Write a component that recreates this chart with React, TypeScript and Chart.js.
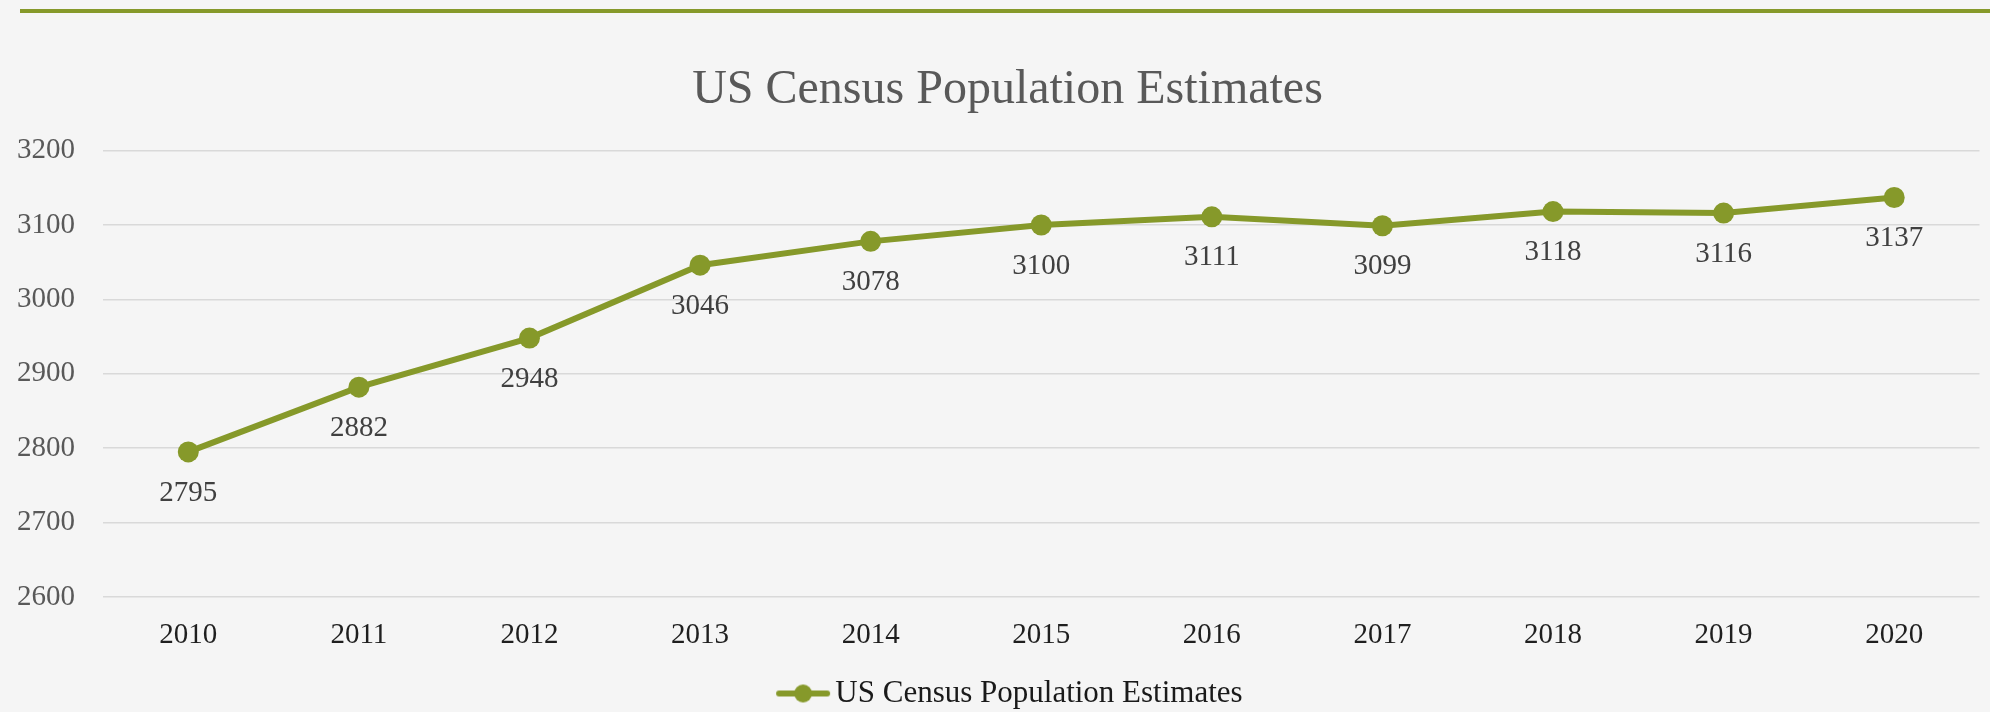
import React, { useEffect, useRef } from "react";
import { Chart, registerables } from "chart.js";

Chart.register(...registerables);

const years: string[] = ["2010", "2011", "2012", "2013", "2014", "2015", "2016", "2017", "2018", "2019", "2020"];
const population: number[] = [2795, 2882, 2948, 3046, 3078, 3100, 3111, 3099, 3118, 3116, 3137];
const seriesName = "US Census Population Estimates";
const chartTitle = "US Census Population Estimates";
const yMin = 2600;
const yMax = 3200;
const yStep = 100;

const GREEN = "#86992a";
const FONT = "'Liberation Serif', 'Times New Roman', serif";

function makeLegendIcon(): HTMLCanvasElement {
  const c = document.createElement("canvas");
  c.width = 72;
  c.height = 22;
  const ctx = c.getContext("2d")!;
  ctx.strokeStyle = GREEN;
  ctx.lineWidth = 6;
  ctx.lineCap = "round";
  ctx.beginPath();
  ctx.moveTo(19, 11);
  ctx.lineTo(67, 11);
  ctx.stroke();
  ctx.fillStyle = GREEN;
  ctx.beginPath();
  ctx.arc(43, 11, 9, 0, Math.PI * 2);
  ctx.fill();
  return c;
}

const dataLabelPlugin = {
  id: "dataLabelsBelow",
  afterDatasetsDraw(chart: any) {
    const ctx = chart.ctx;
    const meta = chart.getDatasetMeta(0);
    const values = chart.data.datasets[0].data as number[];
    ctx.save();
    ctx.font = `29px ${FONT}`;
    ctx.fillStyle = "#404040";
    ctx.textAlign = "center";
    ctx.textBaseline = "middle";
    meta.data.forEach((pt: any, i: number) => {
      ctx.fillText(String(values[i]), pt.x, pt.y + 41);
    });
    ctx.restore();
  },
};

export default function App() {
  const ref = useRef<HTMLCanvasElement | null>(null);

  useEffect(() => {
    document.body.style.margin = "0";
    const canvas = ref.current!;
    const icon = makeLegendIcon();
    const chart = new Chart(canvas, {
      type: "line",
      data: {
        labels: years,
        datasets: [
          {
            label: seriesName,
            data: population,
            borderColor: GREEN,
            backgroundColor: GREEN,
            borderWidth: 6,
            pointRadius: 10.5,
            pointHoverRadius: 10.5,
            pointBackgroundColor: GREEN,
            pointBorderWidth: 0,
            tension: 0,
            fill: false,
          },
        ],
      },
      options: {
        responsive: false,
        animation: false,
        maintainAspectRatio: false,
        layout: { padding: { left: 30, right: 5, top: 0, bottom: -7 } },
        plugins: {
          title: {
            display: true,
            text: chartTitle,
            color: "#595959",
            font: { family: FONT, size: 48, weight: "normal" },
            padding: { top: 62, bottom: 31 },
          },
          legend: {
            display: true,
            position: "bottom",
            labels: {
              color: "#1a1a1a",
              font: { family: FONT, size: 31 },
              padding: 5,
              usePointStyle: true,
              pointStyleWidth: 47.5,
              generateLabels: (ch: any) =>
                ch.data.datasets.map((ds: any, i: number) => ({
                  text: ds.label,
                  pointStyle: icon,
                  fillStyle: GREEN,
                  strokeStyle: GREEN,
                  lineWidth: 0,
                  hidden: false,
                  datasetIndex: i,
                  fontColor: "#1a1a1a",
                })),
            },
          },
          tooltip: { enabled: false },
        },
        scales: {
          x: {
            offset: true,
            grid: { display: false, drawTicks: false, offset: true },
            border: { display: false },
            ticks: {
              color: "#1f1f1f",
              font: { family: FONT, size: 29 },
              padding: 21,
              maxRotation: 0,
            },
            afterFit: (s: any) => {
              s.height = 76;
            },
          },
          y: {
            min: yMin,
            max: yMax,
            grid: { color: "#d9d9d9", lineWidth: 1.5, drawTicks: false },
            border: { display: false },
            ticks: {
              stepSize: yStep,
              color: "#595959",
              font: { family: FONT, size: 29 },
              padding: 28,
              callback: (v: any) => String(v),
            },
            afterFit: (s: any) => {
              s.width = 73;
              s._computeLabelArea = () => undefined;
            },
          },
        },
      },
      plugins: [dataLabelPlugin],
    });
    return () => chart.destroy();
  }, []);

  return (
    <div
      style={{
        position: "absolute",
        left: 0,
        top: 0,
        width: 1990,
        height: 712,
        background: "#f5f5f5",
        overflow: "hidden",
      }}
    >
      <div
        style={{
          position: "absolute",
          left: 20,
          top: 9,
          width: 1970,
          height: 4,
          background: GREEN,
        }}
      />
      <canvas ref={ref} width={1990} height={712} style={{ position: "absolute", left: 0, top: 0 }} />
    </div>
  );
}
